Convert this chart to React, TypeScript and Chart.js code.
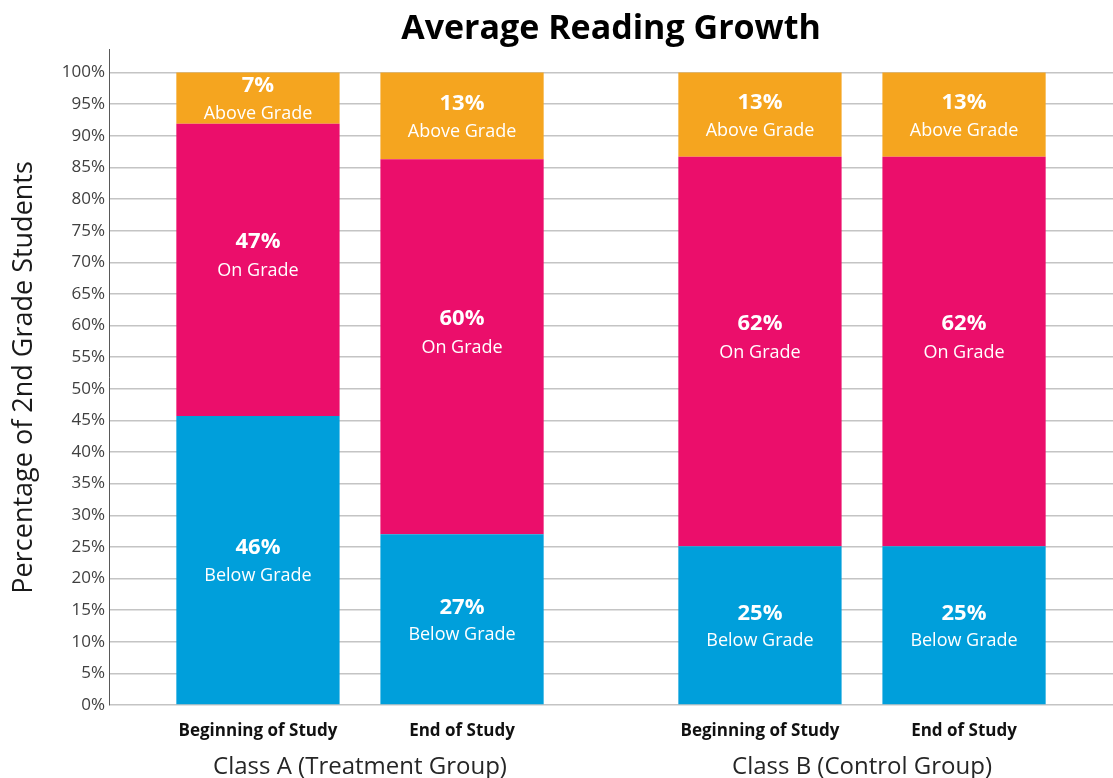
import React, { useEffect, useRef } from "react";
import { Chart, registerables } from "chart.js";

Chart.register(...registerables);

const FONT = "'Open Sans', 'Noto Sans', sans-serif";

const chartTitle = "Average Reading Growth";
const yAxisTitle = "Percentage of 2nd Grade Students";
const groupLabels = ["Class A (Treatment Group)", "Class B (Control Group)"];
const phaseLabels = ["Beginning of Study", "End of Study"];
const segmentNames = ["Below Grade", "On Grade", "Above Grade"];

// values per group: [Class A, Class B]
const belowBeginning = [45.7, 25.1];
const onBeginning = [46.2, 61.6];
const aboveBeginning = [8.1, 13.3];
const belowEnd = [27.0, 25.1];
const onEnd = [59.3, 61.6];
const aboveEnd = [13.7, 13.3];

// printed percentages
const belowBeginningText = ["46%", "25%"];
const onBeginningText = ["47%", "62%"];
const aboveBeginningText = ["7%", "13%"];
const belowEndText = ["27%", "25%"];
const onEndText = ["60%", "62%"];
const aboveEndText = ["13%", "13%"];

const yTickValues = [0, 5, 10, 15, 20, 25, 30, 35, 40, 45, 50, 55, 60, 65, 70, 75, 80, 85, 90, 95, 100];

const COLORS = ["#009FDB", "#EB0E6B", "#F5A51F"];

const segmentLabelPlugin = {
  id: "segmentLabels",
  afterDatasetsDraw(chart: any) {
    const ctx = chart.ctx;
    ctx.save();
    ctx.textAlign = "center";
    ctx.textBaseline = "middle";
    ctx.fillStyle = "#ffffff";
    chart.data.datasets.forEach((ds: any, di: number) => {
      const meta = chart.getDatasetMeta(di);
      const seg = ds.segmentIndex;
      const offs = seg === 1 ? [-28, 1] : [-12, 16];
      meta.data.forEach((bar: any, i: number) => {
        const cy = (bar.y + bar.base) / 2;
        ctx.font = `bold 22px ${FONT}`;
        ctx.fillText(ds.valueText[i], bar.x, cy + offs[0]);
        ctx.font = `18px ${FONT}`;
        ctx.fillText(segmentNames[seg], bar.x, cy + offs[1]);
      });
    });
    // phase labels under each stack
    ctx.fillStyle = "#111111";
    ctx.font = `bold 17px ${FONT}`;
    chart.data.datasets.forEach((ds: any, di: number) => {
      if (ds.segmentIndex !== 0) return;
      const meta = chart.getDatasetMeta(di);
      meta.data.forEach((bar: any) => {
        ctx.fillText(phaseLabels[ds.phaseIndex], bar.x, chart.chartArea.bottom + 26);
      });
    });
    ctx.restore();
  },
};

function makeDataset(values: number[], texts: string[], seg: number, phase: number) {
  return {
    label: `${segmentNames[seg]} - ${phaseLabels[phase]}`,
    data: values,
    backgroundColor: COLORS[seg],
    borderWidth: 0,
    stack: phase === 0 ? "beginning" : "end",
    segmentIndex: seg,
    phaseIndex: phase,
    valueText: texts,
    categoryPercentage: 0.813,
    barPercentage: 0.8,
  };
}

export default function App() {
  const ref = useRef<HTMLCanvasElement | null>(null);

  useEffect(() => {
    document.body.style.margin = "0";
    if (!ref.current) return;
    const chart = new Chart(ref.current, {
      type: "bar",
      data: {
        labels: groupLabels,
        datasets: [
          makeDataset(belowBeginning, belowBeginningText, 0, 0),
          makeDataset(onBeginning, onBeginningText, 1, 0),
          makeDataset(aboveBeginning, aboveBeginningText, 2, 0),
          makeDataset(belowEnd, belowEndText, 0, 1),
          makeDataset(onEnd, onEndText, 1, 1),
          makeDataset(aboveEnd, aboveEndText, 2, 1),
        ] as any,
      },
      options: {
        animation: false,
        responsive: true,
        maintainAspectRatio: false,
        layout: { padding: { top: 0, right: 0, bottom: 0, left: 0 } },
        plugins: {
          legend: { display: false },
          tooltip: { enabled: false },
          title: {
            display: true,
            fullSize: false,
            text: chartTitle,
            color: "#000000",
            font: { family: FONT, size: 34, weight: "bold" },
            padding: { top: 9, bottom: 0 },
          },
        },
        scales: {
          x: {
            grid: { display: false },
            border: { display: false },
            ticks: {
              color: "#262626",
              font: { family: FONT, size: 24 },
              padding: 40,
              maxRotation: 0,
            },
            afterFit(scale: any) {
              scale.height = 73;
            },
          },
          y: {
            stacked: true,
            min: 0,
            max: 103.6,
            grid: { color: "#c4c4c4", lineWidth: 1.5, drawTicks: false },
            border: { display: true, color: "#595959", width: 1 },
            ticks: {
              stepSize: 5,
              color: "#404040",
              font: { family: FONT, size: 17 },
              padding: 4,
              callback: (v: any) => `${v}%`,
            },
            afterBuildTicks(scale: any) {
              scale.ticks = yTickValues.map((v) => ({ value: v }));
            },
            title: {
              display: true,
              text: yAxisTitle,
              color: "#1a1a1a",
              font: { family: FONT, size: 27 },
              padding: { top: 8, bottom: 0 },
            },
            afterFit(scale: any) {
              scale.width = 109;
            },
          },
        },
      },
      plugins: [segmentLabelPlugin],
    });
    return () => chart.destroy();
  }, []);

  return (
    <div style={{ width: "1113px", height: "778px", position: "relative" }}>
      <canvas ref={ref} />
    </div>
  );
}
